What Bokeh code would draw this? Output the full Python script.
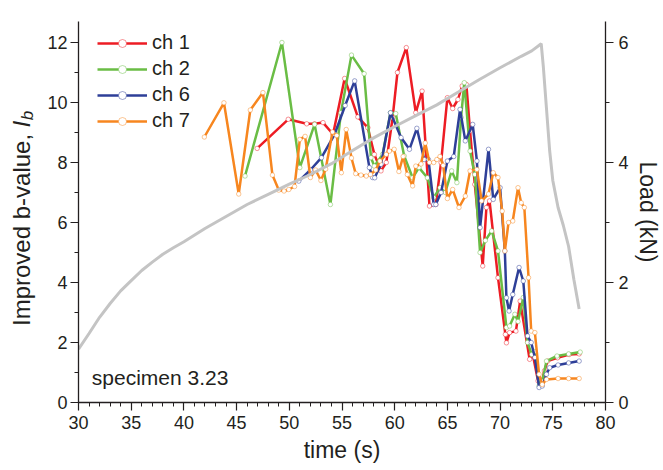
import math
from bokeh.plotting import figure
from bokeh.layouts import row
from bokeh.models import (Range1d, LinearAxis, Legend, LegendItem, Label,
                          SingleIntervalTicker)
from bokeh.embed import file_html
from bokeh.resources import INLINE

FONT = "Liberation Sans"
TXT = "#231f20"

# ---------------- data ----------------
load_t = [30, 31, 32, 33, 34, 35, 36, 37, 38, 39, 40, 42, 44, 46, 48, 50, 52, 54,
          56, 58, 60, 62, 64, 66, 68, 70, 72, 73, 73.9, 74.1, 74.4, 74.7, 75.0,
          75.5, 76.0, 76.5, 77.0, 77.5]
load_kn = [0.89, 1.15, 1.42, 1.65, 1.86, 2.03, 2.2, 2.34, 2.47, 2.58, 2.68, 2.9,
           3.1, 3.3, 3.47, 3.64, 3.8, 3.98, 4.2, 4.41, 4.6, 4.78, 4.96, 5.17,
           5.38, 5.58, 5.77, 5.86, 5.98, 5.6, 4.9, 4.2, 3.7, 3.25, 2.95, 2.6,
           2.05, 1.56]

ch1_t = [46.95, 49.9, 51.65, 52.4, 53.2, 54.15, 55.25, 56.5, 57.45, 58.07, 58.7,
         59.2, 59.8, 60.26, 61.1, 62.0, 62.6, 63.3, 63.9, 64.4, 65.0, 65.5, 66.0,
         66.4, 66.8, 67.15, 67.6, 68.35, 68.7, 69.0, 69.8, 70.5, 70.6, 70.9, 71.5,
         71.9, 72.8, 73.1, 73.6, 73.9, 74.2, 74.5, 75.45, 76.55, 77.5]
ch1_b = [8.47, 9.44, 9.29, 9.29, 9.33, 8.94, 10.8, 9.52, 9.16, 8.27, 7.72,
         8.0, 9.49, 11.0, 11.83, 9.66, 10.38, 6.55, 6.6, 8.0, 10.16, 9.8, 10.1,
         10.55, 10.6, 9.05, 7.27, 4.55, 6.5, 6.72, 4.16, 2.27, 1.99, 2.33, 2.38,
         3.38, 1.44, 1.6, 0.72, 0.6, 1.05, 1.38, 1.49, 1.6, 1.62]

ch2_t = [45.8, 49.3, 51.0, 52.4, 53.9, 54.9, 55.9, 57.1, 57.75, 58.07, 58.85,
         59.6, 60.1, 60.9, 61.7, 62.3, 63.1, 63.7, 64.3, 64.8, 65.4, 65.9, 66.3,
         66.6, 67.15, 67.6, 68.1, 68.6, 69.2, 69.8, 70.6, 70.9, 71.4, 71.7, 72.2,
         72.6, 73.0, 73.3, 73.7, 74.0, 74.4, 75.4, 76.5, 77.6]
ch2_b = [7.55, 12.0, 7.83, 9.27, 6.6, 9.66, 11.58, 10.96, 8.16, 7.88, 8.27,
         9.66, 9.63, 8.22, 7.49, 7.83, 7.49, 6.83, 7.16, 7.0, 7.72, 7.33, 9.5,
         10.66, 8.38, 7.6, 5.0, 5.4, 5.72, 5.05, 2.5, 2.55, 2.94, 2.7, 3.5,
         2.0, 1.6, 1.7, 0.55, 0.7, 1.38, 1.55, 1.62, 1.68]

ch6_t = [50.9, 52.0, 53.05, 54.3, 55.3, 56.2, 57.6, 57.9, 58.1, 58.7, 59.6, 60.6,
         61.4, 62.1, 62.8, 63.2, 63.7, 63.9, 64.4, 65.0, 65.6, 66.2, 66.7, 67.4,
         67.8, 68.1, 68.9, 69.35, 70.0, 70.45, 70.6, 70.85, 71.2, 71.8, 72.2,
         72.6, 72.95, 73.3, 73.7, 74.0, 74.4, 74.7, 75.5, 76.5, 77.5]
ch6_b = [7.38, 7.75, 8.16, 8.94, 9.9, 10.72, 7.83, 7.5, 7.49, 7.94, 9.66, 8.83,
         8.44, 9.14, 8.1, 8.1, 6.6, 6.6, 7.0, 8.05, 8.2, 9.77, 8.72, 9.27,
         8.05, 5.83, 8.44, 6.77, 7.16, 5.05, 3.49, 3.05, 3.6, 4.5, 4.05,
         2.22, 2.0, 1.5, 0.5, 0.55, 0.94, 1.16, 1.25, 1.32, 1.38]

ch7_t = [41.94, 43.8, 45.2, 46.3, 47.5, 48.4, 49.0, 49.5, 49.95, 50.5, 51.0, 51.5,
         52.0, 52.5, 53.0, 53.45, 54.1, 54.5, 54.94, 55.4, 55.9, 56.3, 56.8, 57.3,
         57.7, 58.2, 58.6, 59.2, 59.5, 59.95, 60.4, 60.8, 61.2, 61.7, 62.0, 62.5,
         62.9, 63.3, 63.7, 64.0, 64.3, 64.6, 65.0, 65.5, 66.1, 66.7, 67.15, 67.8,
         68.25, 68.9, 69.35, 69.8, 70.2, 70.45, 70.8, 71.2, 71.7, 72.0, 72.3,
         72.7, 72.95, 73.3, 73.7, 74.0, 74.4, 75.5, 76.5, 77.5]
ch7_b = [8.85, 9.99, 6.95, 9.75, 10.33, 7.58, 7.08, 7.05, 7.1, 7.2, 8.77, 8.87,
         7.5, 7.75, 7.4, 7.78, 9.02, 8.9, 7.66, 9.1, 8.15, 7.63, 7.58, 7.55,
         7.6, 7.75, 8.05, 8.27, 8.38, 8.44, 7.7, 8.2, 7.6, 7.22, 7.88, 7.95,
         8.65, 8.0, 8.0, 8.1, 8.2, 7.9, 6.8, 7.1, 6.5, 6.88, 7.72, 7.77,
         6.72, 6.95, 7.66, 7.5, 6.38, 5.05, 6.0, 6.05, 7.16, 6.66, 6.5,
         4.16, 2.38, 2.33, 0.94, 0.6, 0.77, 0.8, 0.8, 0.8]

labels = ["ch 1", "ch 2", "ch 6", "ch 7"]
colors = ["#ed1c24", "#6abd45", "#2e3f98", "#f7861f"]
series = [(ch1_t, ch1_b), (ch2_t, ch2_b), (ch6_t, ch6_b), (ch7_t, ch7_b)]

y_title_parts = ["Improved b-value, ", "I", "b"]

H = 470
TOP, BOTTOM = 21, 68
Y_MAX = 12.7
TITLE_SIZE = "23px"

# ---------------- left strip holding the y-axis title ----------------
strip = figure(width=40, height=H, output_backend="svg", toolbar_location=None,
               x_range=Range1d(0, 40), y_range=Range1d(0, Y_MAX),
               min_border_left=0, min_border_right=0, min_border_top=TOP,
               min_border_bottom=BOTTOM)
strip.axis.visible = False
strip.grid.visible = False
strip.outline_line_color = None
strip.text(x=[21], y=[2.55], text=[y_title_parts[0]], angle=math.pi / 2,
           text_font={"value": FONT}, text_font_size="24px", text_color=TXT,
           text_align="left", text_baseline="middle")
strip.text(x=[21], y=[9.17], text=[y_title_parts[1]], angle=math.pi / 2,
           text_font={"value": FONT}, text_font_size="24px", text_color=TXT,
           text_font_style="italic", text_align="left", text_baseline="middle")
strip.text(x=[26.5], y=[9.41], text=[y_title_parts[2]], angle=math.pi / 2,
           text_font={"value": FONT}, text_font_size="17px", text_color=TXT,
           text_font_style="italic", text_align="left", text_baseline="middle")

# ---------------- main figure ----------------
p = figure(width=623, height=H, output_backend="svg", toolbar_location=None,
           x_range=Range1d(30, 80), y_range=Range1d(0, Y_MAX),
           min_border_left=38, min_border_right=53, min_border_top=TOP,
           min_border_bottom=BOTTOM)
p.extra_y_ranges = {"load": Range1d(0, Y_MAX / 2)}
p.outline_line_color = None
p.xgrid.visible = False
p.ygrid.visible = False

right = LinearAxis(y_range_name="load", axis_label="Load (kN)")
p.add_layout(right, "right")

for ax in [p.xaxis[0], p.yaxis[0], right]:
    ax.axis_line_color = TXT
    ax.axis_line_width = 1.3
    ax.major_tick_line_color = TXT
    ax.minor_tick_line_color = TXT
    ax.major_tick_line_width = 1.2
    ax.minor_tick_line_width = 1.0
    ax.major_tick_in = 0
    ax.major_tick_out = 8
    ax.minor_tick_in = 0
    ax.minor_tick_out = 4
    ax.major_label_text_font = FONT
    ax.major_label_text_font_size = "18px"
    ax.major_label_text_color = TXT
    ax.axis_label_text_font = FONT
    ax.axis_label_text_font_size = TITLE_SIZE
    ax.axis_label_text_font_style = "normal"
    ax.axis_label_text_color = TXT

p.xaxis.ticker = SingleIntervalTicker(interval=5, num_minor_ticks=5)
p.yaxis[0].ticker = SingleIntervalTicker(interval=2, num_minor_ticks=2)
right.ticker = SingleIntervalTicker(interval=2, num_minor_ticks=2)
p.xaxis.axis_label = "time (s)"
p.xaxis.major_label_standoff = 5
p.xaxis.axis_label_standoff = 5
p.yaxis[0].major_label_standoff = 3
p.yaxis[0].axis_label = None
right.major_label_standoff = 5
right.axis_label_standoff = 3

items = []
for (t, b), c, lab in zip(series, colors, labels):
    lr = p.line(t, b, line_color=c, line_width=2.5)
    sr = p.scatter(t, b, size=4.5, marker="circle", fill_color="white",
                   line_color=c, line_width=0.8, line_alpha=0.6)
    items.append(LegendItem(label=lab, renderers=[lr, sr]))

p.line(load_t, load_kn, y_range_name="load", line_color="#c4c4c4", line_width=3)

legend = Legend(items=items, location=(19, 270), label_text_font=FONT,
                label_text_font_size="20px", label_text_color=TXT,
                glyph_width=50, glyph_height=20, label_height=20, spacing=3,
                padding=0, margin=0, border_line_color=None,
                background_fill_alpha=0, label_standoff=5)
p.add_layout(legend)

p.add_layout(Label(x=31.26, y=0.82, text="specimen 3.23", text_font=FONT,
                   text_font_size="21px", text_color=TXT,
                   text_baseline="alphabetic"))

layout = row(strip, p, spacing=0)
open("out.html", "w").write(file_html(layout, INLINE))
